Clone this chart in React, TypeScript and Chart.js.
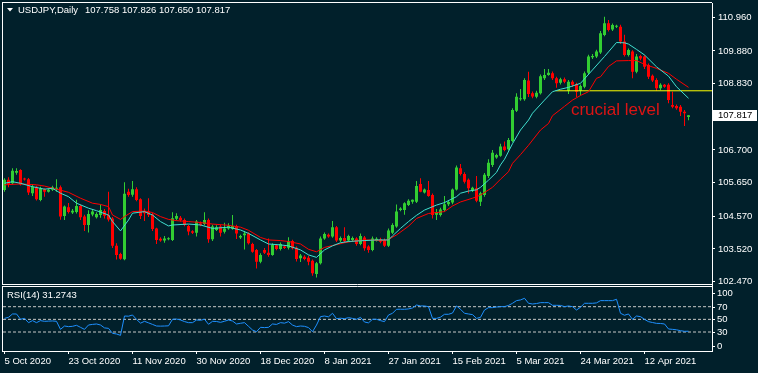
import React, { useEffect, useRef } from "react";
import { Chart, registerables } from "chart.js";

Chart.register(...registerables);

// ---------- data ----------
const symbol = "USDJPY,Daily";
const rsiName = "RSI(14)";
const annotationText = "crucial level";
const xTickLabels = ["5 Oct 2020", "23 Oct 2020", "11 Nov 2020", "30 Nov 2020", "18 Dec 2020", "8 Jan 2021", "27 Jan 2021", "15 Feb 2021", "5 Mar 2021", "24 Mar 2021", "12 Apr 2021"];
const barsPerLabel = 16;
const priceTicks = [110.96, 109.88, 108.83, 106.7, 105.65, 104.57, 103.52, 102.47];
const rsiTickValues = [100, 70, 50, 30, 0];
const rsiLevels = [70, 50, 30];
const crucialLevel = 108.6;
const crucialStart = 137.75;
const annotationX = 141.6;
const annotationY = 107.82;

// [open, high, low, close] per daily bar
const ohlc: number[][] = [
  [105.41, 105.79, 105.36, 105.74], [105.74, 105.82, 105.5, 105.61], [105.63, 106.11, 105.6, 106.03], [105.97, 106.11, 105.9, 106.02],
  [106.06, 106.08, 105.56, 105.59], [105.76, 105.81, 105.72, 105.75], [105.76, 105.8, 105.25, 105.33], [105.31, 105.6, 105.22, 105.52],
  [105.52, 105.55, 105.08, 105.12], [105.09, 105.52, 105.05, 105.47], [105.44, 105.47, 105.2, 105.36], [105.36, 105.45, 105.33, 105.42],
  [105.42, 105.55, 105.38, 105.5], [105.45, 105.76, 105.36, 105.47], [105.5, 105.56, 104.46, 104.56], [104.58, 104.92, 104.45, 104.88],
  [104.86, 105.0, 104.66, 104.71], [104.69, 104.8, 104.64, 104.75], [104.71, 105.1, 104.66, 104.9], [104.9, 104.94, 104.45, 104.54],
  [104.56, 104.62, 104.1, 104.29], [104.29, 104.76, 104.05, 104.64], [104.63, 104.8, 104.57, 104.72], [104.54, 104.7, 104.5, 104.64],
  [104.61, 104.95, 104.52, 104.77], [104.74, 104.8, 104.5, 104.59], [104.61, 105.36, 104.4, 104.47], [104.5, 104.55, 103.55, 103.62],
  [103.62, 103.7, 103.18, 103.33], [103.36, 103.4, 103.17, 103.21], [103.19, 105.66, 103.16, 105.29], [105.36, 105.45, 105.2, 105.25],
  [105.26, 105.7, 105.2, 105.44], [105.44, 105.5, 105.05, 105.09], [105.12, 105.15, 104.48, 104.58], [104.73, 104.82, 104.42, 104.67],
  [104.73, 105.15, 104.55, 104.61], [104.63, 104.68, 104.1, 104.16], [104.18, 104.2, 103.68, 103.81], [103.85, 103.9, 103.75, 103.79],
  [103.79, 103.94, 103.72, 103.86], [103.83, 103.9, 103.8, 103.86], [103.81, 104.7, 103.78, 104.51], [104.49, 104.67, 104.44, 104.58],
  [104.52, 104.58, 104.4, 104.45], [104.45, 104.5, 104.25, 104.29], [104.26, 104.3, 103.96, 104.08], [104.09, 104.12, 104.0, 104.04],
  [104.04, 104.45, 103.92, 104.4], [104.34, 104.4, 104.25, 104.29], [104.32, 104.7, 104.28, 104.45], [104.45, 104.5, 103.72, 103.83],
  [103.83, 104.3, 103.78, 104.24], [104.13, 104.28, 104.1, 104.22], [104.24, 104.3, 103.92, 104.04], [104.07, 104.36, 104.02, 104.18],
  [104.18, 104.35, 104.14, 104.26], [104.17, 104.61, 104.14, 104.26], [104.26, 104.3, 103.84, 104.02], [103.89, 103.98, 103.84, 103.94],
  [103.96, 104.1, 103.5, 104.02], [104.02, 104.06, 103.66, 103.7], [103.68, 103.72, 103.4, 103.43], [103.49, 103.52, 102.89, 103.11],
  [103.11, 103.38, 103.06, 103.33], [103.49, 103.55, 103.36, 103.4], [103.4, 103.86, 103.27, 103.33], [103.33, 103.7, 103.3, 103.65],
  [103.64, 103.68, 103.48, 103.52], [103.52, 103.73, 103.47, 103.68], [103.6, 103.64, 103.52, 103.55], [103.56, 103.9, 103.5, 103.78],
  [103.78, 103.82, 103.5, 103.54], [103.56, 103.6, 103.12, 103.2], [103.22, 103.36, 103.1, 103.31], [103.27, 103.32, 103.16, 103.2],
  [103.24, 103.3, 103.0, 103.11], [103.14, 103.18, 102.66, 102.74], [102.72, 103.1, 102.6, 103.06], [103.06, 103.92, 103.02, 103.86],
  [103.86, 104.05, 103.82, 104.0], [103.98, 104.02, 103.88, 103.92], [103.92, 104.42, 103.88, 104.22], [104.22, 104.26, 103.74, 103.79],
  [103.79, 103.92, 103.74, 103.87], [103.87, 104.22, 103.72, 103.77], [103.79, 103.98, 103.74, 103.94], [103.81, 103.92, 103.78, 103.87],
  [103.86, 103.9, 103.62, 103.68], [103.68, 104.02, 103.64, 103.94], [103.89, 103.94, 103.46, 103.54], [103.6, 103.64, 103.4, 103.49],
  [103.49, 103.92, 103.45, 103.86], [103.79, 103.9, 103.76, 103.85], [103.83, 103.88, 103.7, 103.75], [103.81, 103.86, 103.58, 103.62],
  [103.62, 104.18, 103.58, 104.11], [104.04, 104.35, 104.0, 104.29], [104.24, 104.95, 104.2, 104.72], [104.77, 104.86, 104.73, 104.82],
  [104.77, 105.02, 104.62, 104.99], [104.93, 105.12, 104.9, 105.07], [105.04, 105.11, 104.97, 105.1], [105.04, 105.7, 105.0, 105.54],
  [105.61, 105.79, 105.34, 105.36], [105.33, 105.46, 105.3, 105.43], [105.41, 105.7, 105.2, 105.22], [105.25, 105.3, 104.5, 104.61],
  [104.62, 104.8, 104.45, 104.7], [104.61, 104.84, 104.56, 104.79], [104.77, 105.22, 104.72, 104.96], [104.96, 105.06, 104.9, 105.03],
  [105.01, 105.46, 104.96, 105.43], [105.43, 106.2, 105.4, 106.14], [106.11, 106.25, 105.88, 105.93], [105.93, 105.98, 105.62, 105.68],
  [105.74, 105.78, 105.3, 105.47], [105.39, 105.52, 105.35, 105.49], [105.47, 105.86, 105.02, 105.07], [105.04, 105.36, 104.9, 105.31],
  [105.25, 105.96, 105.2, 105.9], [105.86, 106.4, 105.8, 106.29], [106.22, 106.7, 106.15, 106.61], [106.46, 106.58, 106.42, 106.54],
  [106.51, 106.9, 106.48, 106.81], [106.81, 106.97, 106.66, 106.7], [106.72, 107.08, 106.68, 107.02], [106.99, 108.04, 106.95, 107.98],
  [107.96, 108.52, 107.92, 108.41], [108.33, 108.66, 108.28, 108.36], [108.33, 109.0, 108.28, 108.95], [108.93, 109.21, 108.4, 108.5],
  [108.52, 108.58, 108.36, 108.42], [108.41, 108.6, 108.36, 108.54], [108.52, 109.12, 108.48, 109.07], [109.0, 109.3, 108.95, 109.11],
  [109.11, 109.3, 109.08, 109.18], [109.16, 109.22, 108.95, 109.0], [109.0, 109.05, 108.7, 108.84], [108.86, 109.02, 108.8, 108.97],
  [108.97, 109.03, 108.84, 108.89], [108.6, 108.95, 108.5, 108.89], [108.89, 108.94, 108.72, 108.79], [108.82, 108.86, 108.4, 108.57],
  [108.6, 108.8, 108.45, 108.75], [108.73, 109.22, 108.68, 109.16], [109.18, 109.76, 109.12, 109.7], [109.68, 109.78, 109.62, 109.72],
  [109.7, 109.92, 109.65, 109.86], [109.83, 110.52, 109.78, 110.45], [110.39, 110.98, 110.35, 110.77], [110.77, 110.87, 110.5, 110.55],
  [110.57, 110.76, 110.52, 110.71], [110.66, 110.72, 110.62, 110.68], [110.66, 110.72, 110.1, 110.18], [110.18, 110.4, 109.7, 109.75],
  [109.75, 109.96, 109.7, 109.91], [109.86, 109.9, 109.0, 109.21], [109.21, 109.78, 109.16, 109.7], [109.72, 109.76, 109.58, 109.64],
  [109.7, 109.74, 109.3, 109.37], [109.43, 109.48, 108.98, 109.05], [109.08, 109.12, 108.88, 108.93], [108.95, 109.0, 108.6, 108.68],
  [108.68, 108.84, 108.62, 108.79], [108.79, 108.82, 108.7, 108.73], [108.79, 108.84, 108.2, 108.3], [108.14, 108.57, 108.04, 108.09],
  [108.11, 108.16, 107.99, 108.04], [108.09, 108.14, 107.79, 107.93], [107.93, 107.98, 107.47, 107.88], [107.758, 107.826, 107.65, 107.817],
];

// moving averages: [bar index, value]
const fastMA: number[][] = [
  [0, 105.63], [2, 105.68], [4, 105.63], [7, 105.52], [10, 105.44], [12, 105.47], [14, 105.31], [16, 105.2], [18, 104.99],
  [21, 104.83], [23, 104.75], [26, 104.61], [27, 104.4], [29, 104.1], [31, 104.45], [32, 104.67], [35, 104.72], [37, 104.61],
  [39, 104.4], [41, 104.26], [42, 104.29], [46, 104.32], [49, 104.29], [52, 104.18], [56, 104.22], [59, 104.13], [61, 104.02],
  [64, 103.81], [66, 103.68], [69, 103.65], [71, 103.62], [74, 103.49], [76, 103.33], [78, 103.25], [80, 103.49], [82, 103.62],
  [84, 103.72], [86, 103.76], [90, 103.79], [93, 103.81], [96, 103.81], [97, 103.94], [99, 104.18], [101, 104.4], [103, 104.6],
  [105, 104.77], [108, 104.93], [110, 105.01], [113, 105.2], [114, 105.31], [116, 105.38], [118, 105.42], [119, 105.5],
  [121, 105.73], [123, 105.98], [124, 106.22], [125, 106.4], [127, 106.9], [129, 107.34], [131, 107.66], [132, 107.88],
  [135, 108.3], [137, 108.57], [139, 108.65], [141, 108.71], [144, 108.84], [147, 109.27], [150, 109.7], [151, 109.85],
  [153, 110.15], [155, 110.14], [156, 110.1], [158, 109.93], [160, 109.75], [163, 109.37], [166, 109.07], [168, 108.73], [171, 108.36],
];
const slowMA: number[][] = [
  [0, 105.58], [4, 105.61], [8, 105.58], [10, 105.54], [13, 105.44], [16, 105.34], [19, 105.15], [22, 104.99], [24, 104.95],
  [26, 104.88], [27, 104.61], [29, 104.47], [30, 104.56], [32, 104.72], [35, 104.74], [37, 104.69], [39, 104.56], [41, 104.47],
  [43, 104.43], [46, 104.4], [49, 104.37], [52, 104.32], [56, 104.28], [59, 104.22], [61, 104.12], [64, 103.89], [66, 103.81],
  [69, 103.79], [71, 103.76], [74, 103.68], [76, 103.51], [78, 103.43], [80, 103.57], [82, 103.63], [85, 103.72], [88, 103.79],
  [91, 103.81], [95, 103.79], [96, 103.83], [98, 103.97], [101, 104.25], [103, 104.5], [106, 104.66], [110, 104.72], [112, 104.9],
  [114, 105.03], [117, 105.15], [119, 105.25], [122, 105.5], [124, 105.76], [126, 106.0], [127, 106.27], [129, 106.55],
  [131, 106.85], [134, 107.34], [136, 107.55], [137, 107.8], [140, 108.1], [142, 108.3], [144, 108.45], [146, 108.57],
  [148, 109.0], [149, 109.05], [151, 109.38], [153, 109.56], [156, 109.57], [158, 109.57], [160, 109.45], [163, 109.32],
  [166, 109.16], [168, 108.97], [171, 108.71],
];
const rsi: number[][] = [
  [0, 51.6], [1, 53.2], [2, 58.5], [3, 58.5], [4, 50.1], [5, 51.6], [6, 44.8], [7, 48.0], [8, 44.8], [9, 48.0], [10, 46.9],
  [11, 47.2], [12, 47.5], [13, 46.9], [14, 34.2], [15, 39.5], [16, 38.5], [17, 39.0], [18, 40.6], [19, 37.4], [20, 34.2],
  [21, 41.1], [22, 42.0], [23, 42.7], [24, 41.1], [25, 36.5], [26, 35.8], [27, 27.9], [28, 26.9], [29, 24.7], [30, 55.3],
  [31, 55.0], [32, 56.9], [33, 50.0], [34, 44.0], [35, 46.9], [36, 44.5], [37, 42.0], [38, 39.5], [39, 39.3], [40, 39.5],
  [41, 39.8], [42, 50.1], [43, 50.5], [44, 49.0], [45, 46.5], [46, 44.8], [47, 44.8], [48, 49.0], [49, 48.5], [50, 50.1],
  [51, 42.2], [52, 46.9], [53, 46.6], [54, 45.3], [55, 47.0], [56, 49.0], [57, 47.4], [58, 42.7], [59, 43.8], [60, 44.8],
  [61, 39.0], [62, 33.2], [63, 30.5], [64, 37.4], [65, 37.0], [66, 37.4], [67, 42.7], [68, 42.0], [69, 44.8], [70, 44.0],
  [71, 46.4], [72, 41.0], [73, 38.5], [74, 39.5], [75, 39.0], [76, 37.0], [77, 30.5], [78, 41.0], [79, 54.3], [80, 55.3],
  [81, 54.0], [82, 59.6], [83, 51.1], [84, 51.8], [85, 51.1], [86, 52.7], [87, 51.5], [88, 50.1], [89, 53.2], [90, 45.8],
  [91, 44.5], [92, 50.1], [93, 50.1], [94, 48.0], [95, 46.4], [96, 56.9], [97, 59.6], [98, 65.9], [99, 66.0], [100, 65.9],
  [101, 66.5], [102, 68.0], [103, 72.7], [104, 71.2], [105, 71.2], [106, 70.0], [107, 51.6], [108, 51.6], [109, 53.5],
  [110, 58.0], [111, 58.0], [112, 60.0], [113, 71.2], [114, 65.9], [115, 59.6], [116, 58.5], [117, 57.5], [118, 51.6],
  [119, 53.2], [120, 64.8], [121, 68.5], [122, 68.5], [123, 69.5], [124, 70.1], [125, 70.1], [126, 72.0], [127, 75.4],
  [128, 79.6], [129, 80.7], [130, 83.3], [131, 75.4], [132, 74.3], [133, 75.0], [134, 76.4], [135, 76.4], [136, 76.4],
  [137, 72.2], [138, 72.2], [139, 72.0], [140, 70.1], [141, 71.2], [142, 70.0], [143, 64.8], [144, 69.1], [145, 75.4],
  [146, 75.4], [147, 75.4], [148, 76.0], [149, 79.6], [150, 79.6], [151, 79.6], [152, 79.6], [153, 81.7], [154, 59.6],
  [155, 56.5], [156, 58.5], [157, 50.1], [158, 55.3], [159, 54.3], [160, 50.0], [161, 46.4], [162, 45.0], [163, 43.7],
  [164, 43.5], [165, 42.7], [166, 34.8], [167, 34.2], [168, 33.5], [169, 32.1], [170, 31.1], [171, 31.2743],
];

// ---------- style ----------
const BG = "#01202b";
const UP = "#32cd32";
const DOWN = "#ff0000";
const FONT = '"Liberation Sans", Arial, sans-serif';
const xMin = -0.375;
const xMax = 176.875;
const priceMin = 102.347;
const priceMax = 111.419;
const rsiMax = 103.5;

const mt4Plugin = {
  id: "mt4",
  beforeDraw(chart: any) {
    const { ctx, width, height } = chart;
    ctx.save();
    ctx.fillStyle = BG;
    ctx.fillRect(0, 0, width, height);
    ctx.restore();
  },
  afterDraw(chart: any) {
    const { ctx, chartArea, scales } = chart;
    const yS = scales.y;
    const rS = scales.rsi;
    const xS = scales.x;
    ctx.save();
    const split = Math.round(yS.bottom);
    // pane gap
    ctx.fillStyle = BG;
    ctx.fillRect(0, split - 1, chartArea.right, 1);
    ctx.strokeStyle = "#ffffff";
    ctx.lineWidth = 1;
    ctx.beginPath();
    ctx.moveTo(chartArea.left - 1, chartArea.top - 0.5);
    ctx.lineTo(chartArea.right, chartArea.top - 0.5);
    ctx.moveTo(chartArea.left - 0.5, chartArea.top - 1);
    ctx.lineTo(chartArea.left - 0.5, split - 1);
    ctx.moveTo(chartArea.left - 0.5, split);
    ctx.lineTo(chartArea.left - 0.5, chartArea.bottom + 1);
    ctx.moveTo(chartArea.left - 1, split - 1.5);
    ctx.lineTo(chartArea.right + 1, split - 1.5);
    ctx.moveTo(chartArea.left - 1, split + 0.5);
    ctx.lineTo(chartArea.right + 1, split + 0.5);
    ctx.stroke();

    // title
    const last = ohlc[ohlc.length - 1];
    ctx.fillStyle = "#ffffff";
    ctx.beginPath();
    ctx.moveTo(7, 8);
    ctx.lineTo(13, 8);
    ctx.lineTo(10, 11.5);
    ctx.closePath();
    ctx.fill();
    ctx.font = `9.5px ${FONT}`;
    ctx.textBaseline = "middle";
    ctx.textAlign = "left";
    ctx.fillText(symbol, 18, 10.5);
    const w = ctx.measureText(symbol).width;
    ctx.fillText(last.map((v) => v.toFixed(3)).join(" "), 18 + w + 7, 10.5);

    // RSI title
    const rsiLast = rsi[rsi.length - 1][1];
    ctx.fillText(`${rsiName} ${rsiLast.toFixed(4)}`, 7, split + 9);

    // RSI axis labels
    rsiTickValues.forEach((v) => {
      let y = rS.getPixelForValue(v);
      y = Math.min(Math.max(y, rS.top + 7.5), rS.bottom - 5.5);
      ctx.fillStyle = "#ffffff";
      ctx.fillRect(chartArea.right, Math.round(y), 3, 1);
      ctx.fillText(String(v), chartArea.right + 5, y + 0.5);
    });

    // current price box
    const py = yS.getPixelForValue(last[3]);
    ctx.fillStyle = "#ffffff";
    ctx.fillRect(chartArea.right + 1, Math.round(py) - 5, 44, 11);
    ctx.fillStyle = "#000000";
    ctx.fillText(last[3].toFixed(3), chartArea.right + 6, Math.round(py) + 0.5);

    // annotation
    ctx.font = `17px ${FONT}`;
    ctx.fillStyle = "#dc1414";
    ctx.textBaseline = "alphabetic";
    ctx.fillText(annotationText, xS.getPixelForValue(annotationX), yS.getPixelForValue(annotationY));
    ctx.restore();
  },
};

export default function App() {
  const ref = useRef<HTMLCanvasElement>(null);
  useEffect(() => {
    if (!ref.current) return;
    const colors = ohlc.map((c) => (c[3] >= c[0] ? UP : DOWN));
    const lineDefaults = { type: "line", pointRadius: 0, borderWidth: 1, tension: 0, fill: false };
    const chart = new Chart(ref.current, {
      type: "bar",
      data: {
        datasets: [
          { ...lineDefaults, data: fastMA.map(([x, y]) => ({ x, y })), borderColor: "#40e0d0", yAxisID: "y" },
          { ...lineDefaults, data: slowMA.map(([x, y]) => ({ x, y })), borderColor: "#ff0000", yAxisID: "y" },
          { ...lineDefaults, data: [{ x: crucialStart, y: crucialLevel }, { x: xMax, y: crucialLevel }], borderColor: "#ffff00", yAxisID: "y" },
          { ...lineDefaults, data: rsi.map(([x, y]) => ({ x, y })), borderColor: "#1e90ff", yAxisID: "rsi" },
          ...rsiLevels.map((lv) => ({ ...lineDefaults, data: [{ x: xMin, y: lv }, { x: xMax, y: lv }], borderColor: "#c8c8c8", borderDash: [3, 2], yAxisID: "rsi" })),
          {
            type: "bar", data: ohlc.map((c, i) => ({ x: i, y: [c[0], c[3]] })), backgroundColor: colors, barThickness: 3,
            grouped: false, minBarLength: 1, inflateAmount: 0, borderWidth: 0, yAxisID: "y",
          },
          {
            type: "bar", data: ohlc.map((c, i) => ({ x: i, y: [c[2], c[1]] })), backgroundColor: colors, barThickness: 1,
            grouped: false, inflateAmount: 0, borderWidth: 0, yAxisID: "y",
          },
        ] as any,
      },
      options: {
        animation: false,
        responsive: false,
        devicePixelRatio: 1,
        events: [],
        layout: { padding: { left: 3, top: 3, right: 0, bottom: 0 } },
        plugins: { legend: { display: false }, tooltip: { enabled: false } },
        scales: {
          x: {
            type: "linear", min: xMin, max: xMax, offset: false,
            afterBuildTicks: (s: any) => { s.ticks = xTickLabels.map((_, k) => ({ value: k * barsPerLabel })); },
            afterFit: (s: any) => { s.height = 22; s.paddingLeft = 0; s.paddingRight = 0; },
            ticks: {
              autoSkip: false, maxRotation: 0, align: "start", color: "#ffffff", padding: 2,
              font: { family: FONT, size: 9.5 },
              callback: (v: any) => xTickLabels[Math.round(Number(v) / barsPerLabel)] ?? "",
            },
            grid: { display: true, drawOnChartArea: false, drawTicks: true, tickLength: 3, tickColor: "#ffffff", color: "#ffffff", offset: false },
            border: { display: true, color: "#ffffff", width: 1 },
          },
          y: {
            type: "linear", position: "right", stack: "panes", stackWeight: 282.5, min: priceMin, max: priceMax,
            afterBuildTicks: (s: any) => { s.ticks = priceTicks.map((v) => ({ value: v })); },
            afterFit: (s: any) => { s.width = 46; s.paddingTop = 0; s.paddingBottom = 0; },
            ticks: { autoSkip: false, color: "#ffffff", padding: 3, font: { family: FONT, size: 9.5 }, callback: (v: any) => Number(v).toFixed(3) },
            grid: { display: true, drawOnChartArea: false, drawTicks: true, tickLength: 3, tickColor: "#ffffff", color: "#ffffff" },
            border: { display: true, color: "#ffffff", width: 1 },
          },
          rsi: {
            type: "linear", position: "right", stack: "panes", stackWeight: 65.5, min: 0, max: rsiMax,
            afterFit: (s: any) => { s.width = 46; s.paddingTop = 0; s.paddingBottom = 0; },
            ticks: { display: false },
            grid: { display: false },
            border: { display: true, color: "#ffffff", width: 1 },
          },
        },
      } as any,
      plugins: [mt4Plugin],
    });
    return () => chart.destroy();
  }, []);
  return (
    <div style={{ position: "fixed", left: 0, top: 0, width: 758, height: 373, background: BG }}>
      <canvas ref={ref} width={758} height={373} style={{ display: "block", width: 758, height: 373 }} />
    </div>
  );
}
